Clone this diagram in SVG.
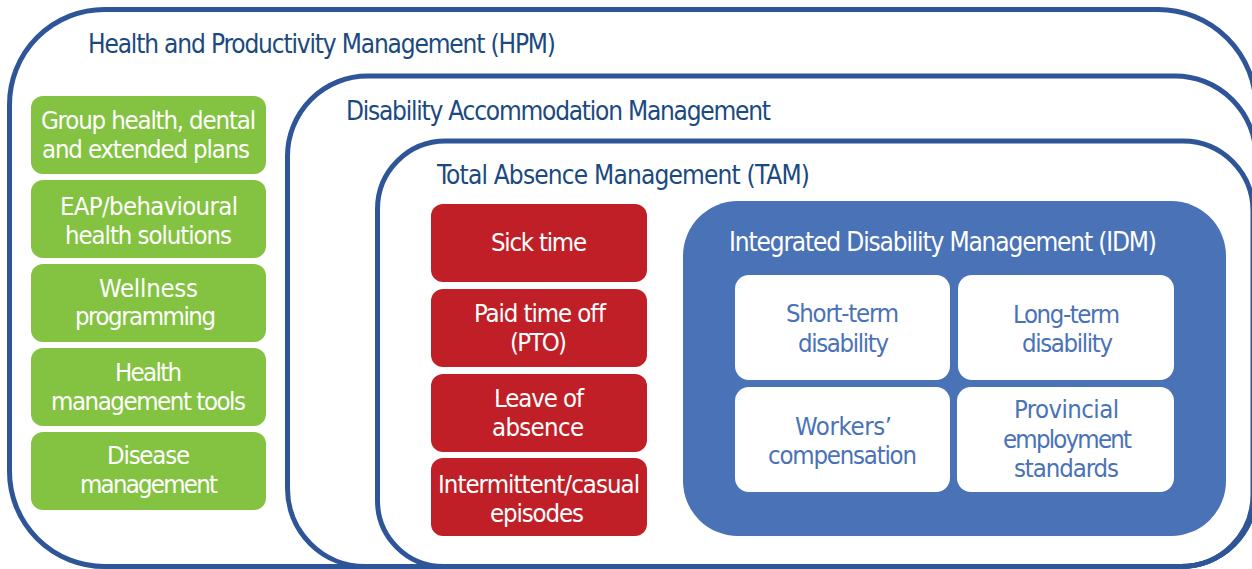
<svg xmlns="http://www.w3.org/2000/svg" width="1252" height="569" viewBox="0 0 1252 569">
  <style>
    text { font-family: "DejaVu Sans Condensed", "Liberation Sans", Arial, sans-serif; font-stretch: condensed; }
    .frame { fill: none; stroke: #2E5597; stroke-width: 5; }
    .title { fill: #1B4A7E; font-size: 26px; }
    .green { fill: #83C341; }
    .red { fill: #C01F28; }
    .idm { fill: #4A72B7; }
    .card { fill: #FFFFFF; }
    .wt { fill: #FFFFFF; font-size: 25.5px; text-anchor: middle; }
    .bt { fill: #4A72B7; font-size: 25.5px; text-anchor: middle; }
    .it { fill: #FFFFFF; font-size: 26px; }
  </style>

  <rect x="0" y="0" width="1252" height="569" fill="#FFFFFF"/>

  <!-- Health and Productivity Management -->
  <g id="hpm">
    <path class="frame" d="M9.5,104.5 A95,95 0 0 1 104.5,9.5 H1158 A98,98 0 0 1 1256,107.5 V491.5 A75,75 0 0 1 1181,566.5 H104.5 A95,95 0 0 1 9.5,471.5 Z"/>
    <text class="title" x="88" y="52.5" textLength="468" lengthAdjust="spacing">Health and Productivity Management (HPM)</text>
  </g>

  <!-- Disability Accommodation Management -->
  <g id="dam">
    <path class="frame" d="M287.5,156 A80,80 0 0 1 367.5,76 H1175 A81,81 0 0 1 1256,157 V491.5 A75,75 0 0 1 1181,566.5 H365.5 A78,78 0 0 1 287.5,488.5 Z"/>
    <text class="title" x="346" y="120" textLength="425" lengthAdjust="spacing">Disability Accommodation Management</text>
  </g>

  <!-- Total Absence Management -->
  <g id="tam">
    <path class="frame" d="M377.5,209 A68,68 0 0 1 445.5,141 H1183 A70,70 0 0 1 1253,211 V494.5 A72,72 0 0 1 1181,566.5 H443.5 A66,66 0 0 1 377.5,500.5 Z"/>
    <text class="title" x="437" y="184" textLength="373" lengthAdjust="spacing">Total Absence Management (TAM)</text>
  </g>

  <!-- HPM programs -->
  <g id="group-health">
    <rect class="green" x="31" y="96" width="235" height="78" rx="12"/>
    <text class="wt" x="148.5" y="129" textLength="215" lengthAdjust="spacing">Group health, dental</text>
    <text class="wt" x="146" y="158" textLength="208" lengthAdjust="spacing">and extended plans</text>
  </g>
  <g id="eap">
    <rect class="green" x="31" y="180" width="235" height="78" rx="12"/>
    <text class="wt" x="149" y="215" textLength="178" lengthAdjust="spacing">EAP/behavioural</text>
    <text class="wt" x="148.5" y="244" textLength="167" lengthAdjust="spacing">health solutions</text>
  </g>
  <g id="wellness">
    <rect class="green" x="31" y="264" width="235" height="78" rx="12"/>
    <text class="wt" x="148.5" y="297" textLength="99" lengthAdjust="spacing">Wellness</text>
    <text class="wt" x="145.5" y="325" textLength="141" lengthAdjust="spacing">programming</text>
  </g>
  <g id="health-tools">
    <rect class="green" x="31" y="348" width="235" height="78" rx="12"/>
    <text class="wt" x="148.5" y="381" textLength="67" lengthAdjust="spacing">Health</text>
    <text class="wt" x="148.5" y="410" textLength="195" lengthAdjust="spacing">management tools</text>
  </g>
  <g id="disease">
    <rect class="green" x="31" y="432" width="235" height="78" rx="12"/>
    <text class="wt" x="148.5" y="464" textLength="83" lengthAdjust="spacing">Disease</text>
    <text class="wt" x="149" y="493" textLength="138" lengthAdjust="spacing">management</text>
  </g>

  <!-- TAM absence types -->
  <g id="sick-time">
    <rect class="red" x="431" y="204" width="216" height="78" rx="12"/>
    <text class="wt" x="539" y="251" textLength="96" lengthAdjust="spacing">Sick time</text>
  </g>
  <g id="pto">
    <rect class="red" x="431" y="289" width="216" height="78" rx="12"/>
    <text class="wt" x="540" y="322" textLength="132" lengthAdjust="spacing">Paid time off</text>
    <text class="wt" x="538.5" y="351" textLength="57" lengthAdjust="spacing">(PTO)</text>
  </g>
  <g id="leave">
    <rect class="red" x="431" y="374" width="216" height="78" rx="12"/>
    <text class="wt" x="539" y="407" textLength="90" lengthAdjust="spacing">Leave of</text>
    <text class="wt" x="538" y="436" textLength="92" lengthAdjust="spacing">absence</text>
  </g>
  <g id="intermittent">
    <rect class="red" x="431" y="458" width="216" height="78" rx="12"/>
    <text class="wt" x="539" y="493" textLength="202" lengthAdjust="spacing">Intermittent/casual</text>
    <text class="wt" x="537" y="522" textLength="94" lengthAdjust="spacing">episodes</text>
  </g>

  <!-- Integrated Disability Management -->
  <g id="idm">
    <rect class="idm" x="683" y="201" width="543" height="335" rx="55"/>
    <text class="it" x="729" y="251" textLength="428" lengthAdjust="spacing">Integrated Disability Management (IDM)</text>
  </g>
  <g id="std">
    <rect class="card" x="735" y="275" width="215" height="105" rx="14"/>
    <text class="bt" x="842.5" y="322" textLength="113" lengthAdjust="spacing">Short-term</text>
    <text class="bt" x="843.5" y="351.5" textLength="91" lengthAdjust="spacing">disability</text>
  </g>
  <g id="ltd">
    <rect class="card" x="958" y="275" width="216" height="105" rx="14"/>
    <text class="bt" x="1066.5" y="323" textLength="107" lengthAdjust="spacing">Long-term</text>
    <text class="bt" x="1067.5" y="352" textLength="91" lengthAdjust="spacing">disability</text>
  </g>
  <g id="workers-comp">
    <rect class="card" x="735" y="387" width="215" height="105" rx="14"/>
    <text class="bt" x="843.5" y="435" textLength="97" lengthAdjust="spacing">Workers’</text>
    <text class="bt" x="842.5" y="464" textLength="149" lengthAdjust="spacing">compensation</text>
  </g>
  <g id="employment-standards">
    <rect class="card" x="957" y="387" width="217" height="105" rx="14"/>
    <text class="bt" x="1066.5" y="418" textLength="105" lengthAdjust="spacing">Provincial</text>
    <text class="bt" x="1067.5" y="448" textLength="129" lengthAdjust="spacing">employment</text>
    <text class="bt" x="1066.5" y="477" textLength="105" lengthAdjust="spacing">standards</text>
  </g>
</svg>
